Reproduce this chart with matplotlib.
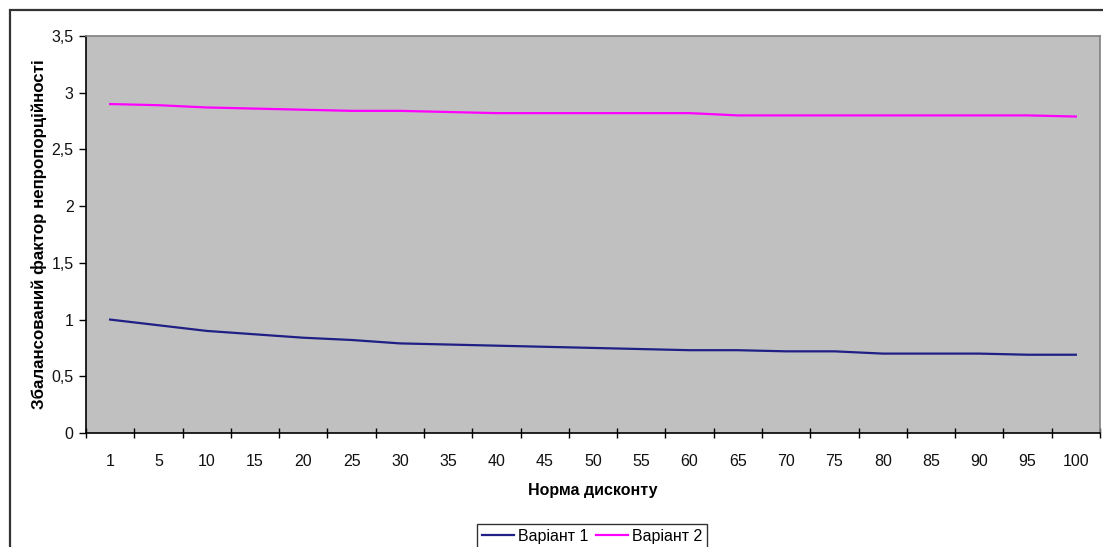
import matplotlib
matplotlib.use("Agg")
import matplotlib.pyplot as plt
from matplotlib.patches import Rectangle
from matplotlib.ticker import FixedLocator, FuncFormatter

plt.rcParams['font.family'] = ['Liberation Sans', 'DejaVu Sans']

categories = ["1", "5", "10", "15", "20", "25", "30", "35", "40", "45", "50",
              "55", "60", "65", "70", "75", "80", "85", "90", "95", "100"]
variant1 = [1.00, 0.95, 0.90, 0.87, 0.84, 0.82, 0.79, 0.78, 0.77, 0.76, 0.75,
            0.74, 0.73, 0.73, 0.72, 0.72, 0.70, 0.70, 0.70, 0.69, 0.69]
variant2 = [2.90, 2.89, 2.87, 2.86, 2.85, 2.84, 2.84, 2.83, 2.82, 2.82, 2.82,
            2.82, 2.82, 2.80, 2.80, 2.80, 2.80, 2.80, 2.80, 2.80, 2.79]
series_names = ["Варіант 1", "Варіант 2"]
y_ticks = [0, 0.5, 1, 1.5, 2, 2.5, 3, 3.5]

W, H = 1103, 547
fig = plt.figure(figsize=(W / 100, H / 100), dpi=100)
fig.patch.set_facecolor('white')

# outer chart border
fig.add_artist(Rectangle((9.5 / W, -0.02), 1.05, 1 - 9.5 / H + 0.02,
                         transform=fig.transFigure, fill=False,
                         edgecolor='#333333', linewidth=1.6))

ax = fig.add_axes([86 / W, 1 - 433 / H, (1100 - 86) / W, (433 - 36) / H])
ax.set_facecolor('#C0C0C0')

x = list(range(len(categories)))
ax.plot(x, variant1, color='#1f1f85', linewidth=1.6, label=series_names[0])
ax.plot(x, variant2, color='#FF00FF', linewidth=1.6, label=series_names[1])

ax.set_xlim(-0.5, len(categories) - 0.5)
ax.set_ylim(0, 3.5)

# x: tick marks between categories, labels at category centres
ax.xaxis.set_major_locator(FixedLocator([i - 0.5 for i in range(len(categories) + 1)]))
ax.xaxis.set_major_formatter(FuncFormatter(lambda v, p: ""))
ax.xaxis.set_minor_locator(FixedLocator(x))
ax.set_xticklabels(categories, minor=True)
ax.tick_params(axis='x', which='major', direction='inout', length=7, width=1, color='black')
ax.tick_params(axis='x', which='minor', length=0, pad=15, labelsize=11.5, labelcolor='#111111')

ax.set_yticks(y_ticks)
ax.yaxis.set_major_formatter(FuncFormatter(lambda v, p: f"{v:g}".replace('.', ',')))
ax.tick_params(axis='y', direction='out', length=5, width=1, color='black',
               labelsize=11.5, pad=4, labelcolor='#111111')

for s in ['top', 'right']:
    ax.spines[s].set_color('#808080')
    ax.spines[s].set_linewidth(1.2)
for s in ['left', 'bottom']:
    ax.spines[s].set_color('black')
    ax.spines[s].set_linewidth(1.2)

ax.set_xlabel("Норма дисконту", fontsize=11.5, fontweight='bold', labelpad=10)
ax.set_ylabel("Збалансований фактор непропорційності", fontsize=12.2,
              fontweight='bold', labelpad=3)

leg = fig.legend(loc='upper center', bbox_to_anchor=(592 / W, 1 - 516 / H),
                 ncol=2, frameon=True, fancybox=False, fontsize=11.5,
                 handlelength=2.0, handletextpad=0.25, columnspacing=0.5,
                 borderpad=0.3)
leg.get_frame().set_edgecolor('black')
leg.get_frame().set_linewidth(1.0)

fig.savefig("out.png", dpi=100, facecolor='white')
